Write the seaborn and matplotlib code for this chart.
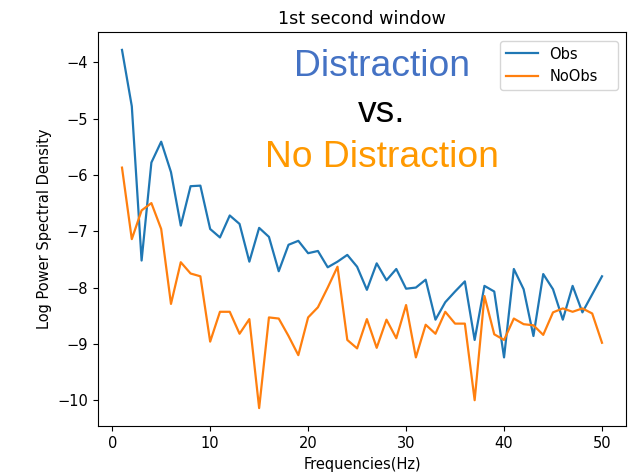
import numpy as np
import pandas as pd
import matplotlib
matplotlib.use("Agg")
import matplotlib.pyplot as plt
import seaborn as sns

# Frequency bins (Hz)
freqs = list(range(1, 51))

# Log power spectral density, first-second window
obs = [-3.78, -4.78, -7.52, -5.78, -5.41, -5.95, -6.90, -6.20, -6.19, -6.96,
       -7.11, -6.72, -6.87, -7.54, -6.94, -7.10, -7.71, -7.24, -7.17, -7.39,
       -7.35, -7.64, -7.54, -7.42, -7.63, -8.04, -7.57, -7.87, -7.67, -8.02,
       -8.00, -7.86, -8.57, -8.26, -8.07, -7.89, -8.93, -7.97, -8.07, -9.24,
       -7.67, -8.03, -8.86, -7.76, -8.03, -8.57, -7.97, -8.44, -8.12, -7.80]

noobs = [-5.87, -7.14, -6.63, -6.50, -6.96, -8.29, -7.55, -7.75, -7.80, -8.96,
         -8.43, -8.43, -8.82, -8.56, -10.14, -8.53, -8.55, -8.86, -9.20, -8.53,
         -8.35, -8.00, -7.63, -8.93, -9.08, -8.56, -9.07, -8.57, -8.90, -8.31,
         -9.24, -8.66, -8.82, -8.43, -8.64, -8.64, -10.00, -8.15, -8.83, -8.93,
         -8.55, -8.65, -8.67, -8.84, -8.44, -8.37, -8.43, -8.37, -8.46, -8.98]

series_names = ["Obs", "NoObs"]

df = pd.concat([
    pd.DataFrame({"freq": freqs, "psd": obs, "cond": series_names[0]}),
    pd.DataFrame({"freq": freqs, "psd": noobs, "cond": series_names[1]}),
])

plt.rcParams["font.family"] = ["DejaVu Sans"]
plt.rcParams["font.size"] = 10.5
plt.rcParams["xtick.major.size"] = 3.7
plt.rcParams["ytick.major.size"] = 3.7

fig = plt.figure(figsize=(6.33, 4.72), dpi=100)
ax = fig.add_axes([98 / 633, 1 - 426 / 472, 528 / 633, 394 / 472])

sns.lineplot(data=df, x="freq", y="psd", hue="cond",
             palette=["#1f77b4", "#ff7f0e"], linewidth=1.6, ax=ax)

ax.set_title("1st second window", fontsize=12.6)
ax.set_xlabel("Frequencies(Hz)")
ax.set_ylabel("Log Power Spectral Density")
ax.set_xticks([0, 10, 20, 30, 40, 50])
ax.set_yticks([-4, -5, -6, -7, -8, -9, -10])

handles, labels = ax.get_legend_handles_labels()
leg = ax.legend(handles, labels, loc="upper right",
                bbox_to_anchor=(0.761, 0.853, 0.2235, 0.125),
                mode="expand", borderaxespad=0, handlelength=2.2,
                fontsize=10.5)

txt_kw = dict(transform=ax.transAxes, ha="center", va="baseline",
              family=["Liberation Sans", "DejaVu Sans"], fontsize=26.8)
ax.text(0.538, 0.888, "Distraction", color="#4472C4", **txt_kw)
ax.text(0.538, 0.772, "vs.", color="black", **txt_kw)
ax.text(0.538, 0.657, "No Distraction", color="#FF9900", **txt_kw)

fig.savefig("out.png", dpi=100)
